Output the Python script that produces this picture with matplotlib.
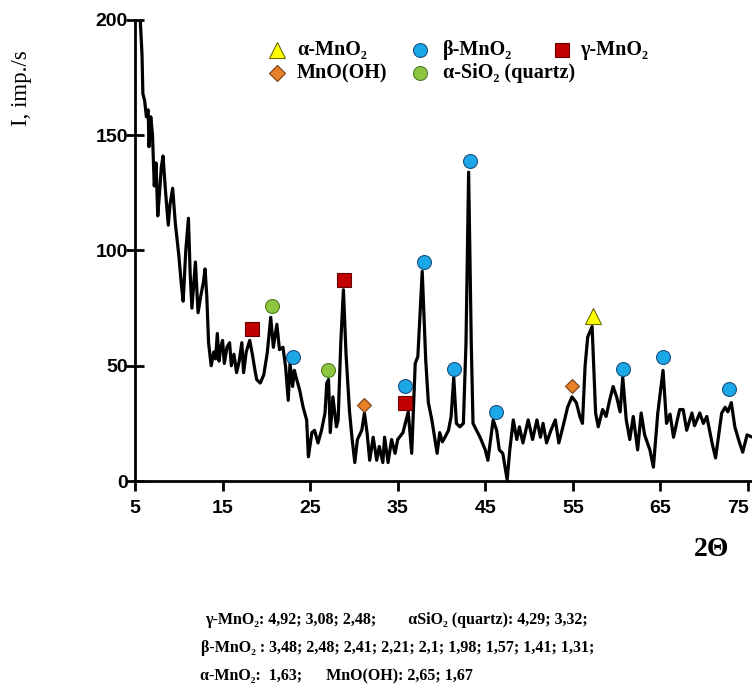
import matplotlib
matplotlib.use("Agg")
import matplotlib.pyplot as plt
import matplotlib.transforms as mtransforms
from matplotlib.lines import Line2D

# XRD pattern (2-theta, intensity)
two_theta = [5.0, 5.6, 5.8, 5.9, 6.1, 6.3, 6.5, 6.6, 6.8, 7.0, 7.2, 7.4, 7.6, 7.8,
             8.0, 8.2, 8.5, 8.8, 9.0, 9.3, 9.6, 10.0, 10.3, 10.5, 10.8, 11.1, 11.3,
             11.5, 11.7, 11.9, 12.2, 12.5, 12.8, 13.0, 13.2, 13.4, 13.7, 14.0, 14.2,
             14.4, 14.6, 14.8, 15.0, 15.2, 15.5, 15.8, 16.0, 16.3, 16.6, 16.9, 17.2,
             17.4, 17.7, 18.1, 18.4, 18.7, 18.9, 19.3, 19.7, 20.1, 20.5, 20.8, 21.2,
             21.5, 21.9, 22.2, 22.5, 22.7, 23.0, 23.2, 23.4, 23.8, 24.2, 24.6, 24.8,
             25.2, 25.5, 25.9, 26.3, 26.7, 26.9, 27.1, 27.3, 27.6, 28.0, 28.2, 28.5,
             28.8, 29.1, 29.5, 29.8, 30.1, 30.4, 30.9, 31.2, 31.5, 31.8, 32.2, 32.6,
             32.9, 33.3, 33.5, 33.9, 34.3, 34.7, 35.0, 35.6, 36.2, 36.6, 37.0, 37.3,
             37.8, 38.2, 38.5, 38.9, 39.5, 39.8, 40.1, 40.4, 40.8, 41.1, 41.4, 41.7,
             42.1, 42.5, 42.8, 43.1, 43.4, 43.6, 44.0, 44.4, 45.0, 45.3, 45.9, 46.3,
             46.6, 47.0, 47.5, 47.8, 48.2, 48.6, 48.9, 49.3, 49.9, 50.4, 50.9, 51.3,
             51.6, 52.0, 52.5, 53.0, 53.4, 53.9, 54.4, 54.9, 55.4, 55.8, 56.1, 56.4,
             56.7, 57.2, 57.6, 57.9, 58.4, 58.8, 59.2, 59.6, 60.0, 60.4, 60.7, 61.1,
             61.5, 61.9, 62.4, 62.8, 63.2, 63.8, 64.2, 64.7, 65.3, 65.7, 66.1, 66.5,
             66.9, 67.2, 67.6, 68.0, 68.6, 68.9, 69.5, 69.9, 70.3, 70.9, 71.3, 72.0,
             72.4, 72.7, 73.1, 73.5, 74.0, 74.4, 74.9, 75.5]
intensity = [200, 200, 185, 168, 165, 158, 161, 145, 158, 150, 128, 138, 115, 125,
             136, 141, 125, 111, 120, 127, 112, 98, 85, 78, 100, 114, 90,
             75, 85, 95, 73, 80, 86, 92, 80, 60, 50, 56, 53,
             64, 52, 58, 61, 51, 58, 60, 50, 55, 47, 52, 60,
             47, 56, 61, 55, 48, 44, 42.5, 46, 55.5, 71, 58, 68,
             57, 58, 49.5, 35, 51, 41, 48, 45, 39.5, 32, 26.5, 10.5,
             21, 22, 16.5, 22, 29.5, 42.5, 44, 21, 36.5, 23.5, 26.5, 60,
             83, 55, 30, 18, 8, 18, 22, 29.5, 21, 9, 19, 9,
             15, 8, 19, 8, 18, 12, 18, 21, 30, 12, 51, 54,
             91, 52.5, 34, 26.5, 12, 21, 17, 19, 22, 28, 45, 25,
             23.5, 25, 60, 134, 60, 25, 22, 19, 13.5, 9, 26.5, 22,
             13.5, 12, 0.5, 13.5, 26.5, 18, 23.5, 16.5, 26.5, 18, 26.5, 19,
             25, 16.5, 22, 26.5, 16.5, 24, 32, 36.5, 34, 28, 25, 50,
             62.5, 67, 29.5, 23.5, 31, 28, 35, 41, 36.5, 30, 45, 26.5,
             18, 28, 13.5, 29.5, 20, 13.5, 6, 29.5, 48, 25, 29, 19,
             26, 31, 31, 22, 29.5, 24, 29.5, 25, 28, 16.5, 10, 29.5,
             32, 30, 34, 23.5, 17, 12.5, 20, 19]

# phase markers (2-theta, intensity)
alpha_mno2_x = [57.3]
alpha_mno2_y = [71.5]
beta_mno2_x = [23.0, 35.8, 38.0, 41.4, 43.3, 46.2, 60.7, 65.3, 72.8]
beta_mno2_y = [54, 41, 95, 48.6, 139, 30, 48.6, 54, 40]
gamma_mno2_x = [18.4, 28.9, 35.8]
gamma_mno2_y = [66, 87, 34]
mnooh_x = [31.1, 54.9]
mnooh_y = [33, 41]
quartz_x = [20.6, 27.0]
quartz_y = [76, 48]

xticks = [5, 15, 25, 35, 45, 55, 65, 75]
yticks = [0, 50, 100, 150, 200]

serif = ['Liberation Serif', 'DejaVu Serif']

# marker styles shared by plot and legend
styles = {
    'alpha': dict(marker='^', mfc='#ffff00', mec='#6b6b00'),
    'beta': dict(marker='o', mfc='#1aa9e6', mec='#1a4f80'),
    'gamma': dict(marker='s', mfc='#c00000', mec='#6b0000'),
    'mnooh': dict(marker='D', mfc='#e8802a', mec='#7a3f10'),
    'quartz': dict(marker='o', mfc='#8cc63f', mec='#4e7a22'),
}

fig = plt.figure(figsize=(7.52, 6.97), dpi=100)
ax = fig.add_axes([135 / 752, 1 - 481 / 697, 617 / 752, 461 / 697])

ax.plot(two_theta, intensity, color='black', lw=2.3, zorder=2, solid_joinstyle='round')

ax.plot(gamma_mno2_x, gamma_mno2_y, ls='none', ms=9.5, mew=0.8, zorder=3, **styles['gamma'])
ax.plot(quartz_x, quartz_y, ls='none', ms=10, mew=0.8, zorder=3, **styles['quartz'])
ax.plot(beta_mno2_x, beta_mno2_y, ls='none', ms=10, mew=0.8, zorder=3, **styles['beta'])
ax.plot(mnooh_x, mnooh_y, ls='none', ms=7.5, mew=0.8, zorder=3, **styles['mnooh'])
ax.plot(alpha_mno2_x, alpha_mno2_y, ls='none', ms=11, mew=0.8, zorder=3, **styles['alpha'])

ax.set_xlim(5, 75.46)
ax.set_ylim(0, 200)
ax.set_xticks(xticks)
ax.set_yticks(yticks)
for side in ['top', 'right']:
    ax.spines[side].set_visible(False)
for side in ['left', 'bottom']:
    ax.spines[side].set_linewidth(2)
ax.tick_params(axis='y', direction='inout', length=13, width=2, pad=-1.5)
ax.tick_params(axis='x', direction='out', length=7, width=2, pad=7)
for lab in ax.get_xticklabels() + ax.get_yticklabels():
    lab.set_fontfamily('Liberation Sans')
    lab.set_fontweight('bold')
    lab.set_fontsize(14)
# keep the last x label inside the picture
last = ax.get_xticklabels()[-1]
last.set_transform(last.get_transform() + mtransforms.ScaledTranslation(-10 / 100, 0, fig.dpi_scale_trans))

# legend drawn by hand (columns overlap in the original)
legend_items = [
    ('alpha', 'α-MnO₂', 277, 50, 297, 12),
    ('beta', 'β-MnO₂', 420, 50, 443, 10),
    ('gamma', 'γ-MnO₂', 562, 50, 580, 10),
    ('mnooh', 'MnO(OH)', 277, 73, 297, 8.5),
    ('quartz', 'α-SiO₂ (quartz)', 420, 73, 443, 10),
]
for key, text, mx, my, tx, size in legend_items:
    fig.add_artist(Line2D([mx / 752], [1 - my / 697], transform=fig.transFigure,
                          ls='none', ms=size, mew=0.8, **styles[key]))
    fig.text(tx / 752, 1 - my / 697, text, ha='left', va='center',
             family=serif, fontweight='bold', fontsize=14.5)

fig.text(22 / 752, 1 - 88 / 697, 'I, imp./s', rotation=90, ha='center', va='center',
         family=serif, fontsize=16.5)
fig.text(712 / 752, 1 - 549 / 697, '2Θ', ha='center', va='center',
         family=serif, fontweight='bold', fontsize=20)

notes = [
    (205, 620, 'γ-MnO₂: 4,92; 3,08; 2,48;        αSiO₂ (quartz): 4,29; 3,32;'),
    (201, 648, 'β-MnO₂ : 3,48; 2,48; 2,41; 2,21; 2,1; 1,98; 1,57; 1,41; 1,31;'),
    (200, 676, 'α-MnO₂:  1,63;      MnO(OH): 2,65; 1,67'),
]
for px, py, txt in notes:
    fig.text(px / 752, 1 - py / 697, txt, ha='left', va='center',
             family=serif, fontweight='bold', fontsize=11.5)

fig.savefig('out.png', dpi=100)
